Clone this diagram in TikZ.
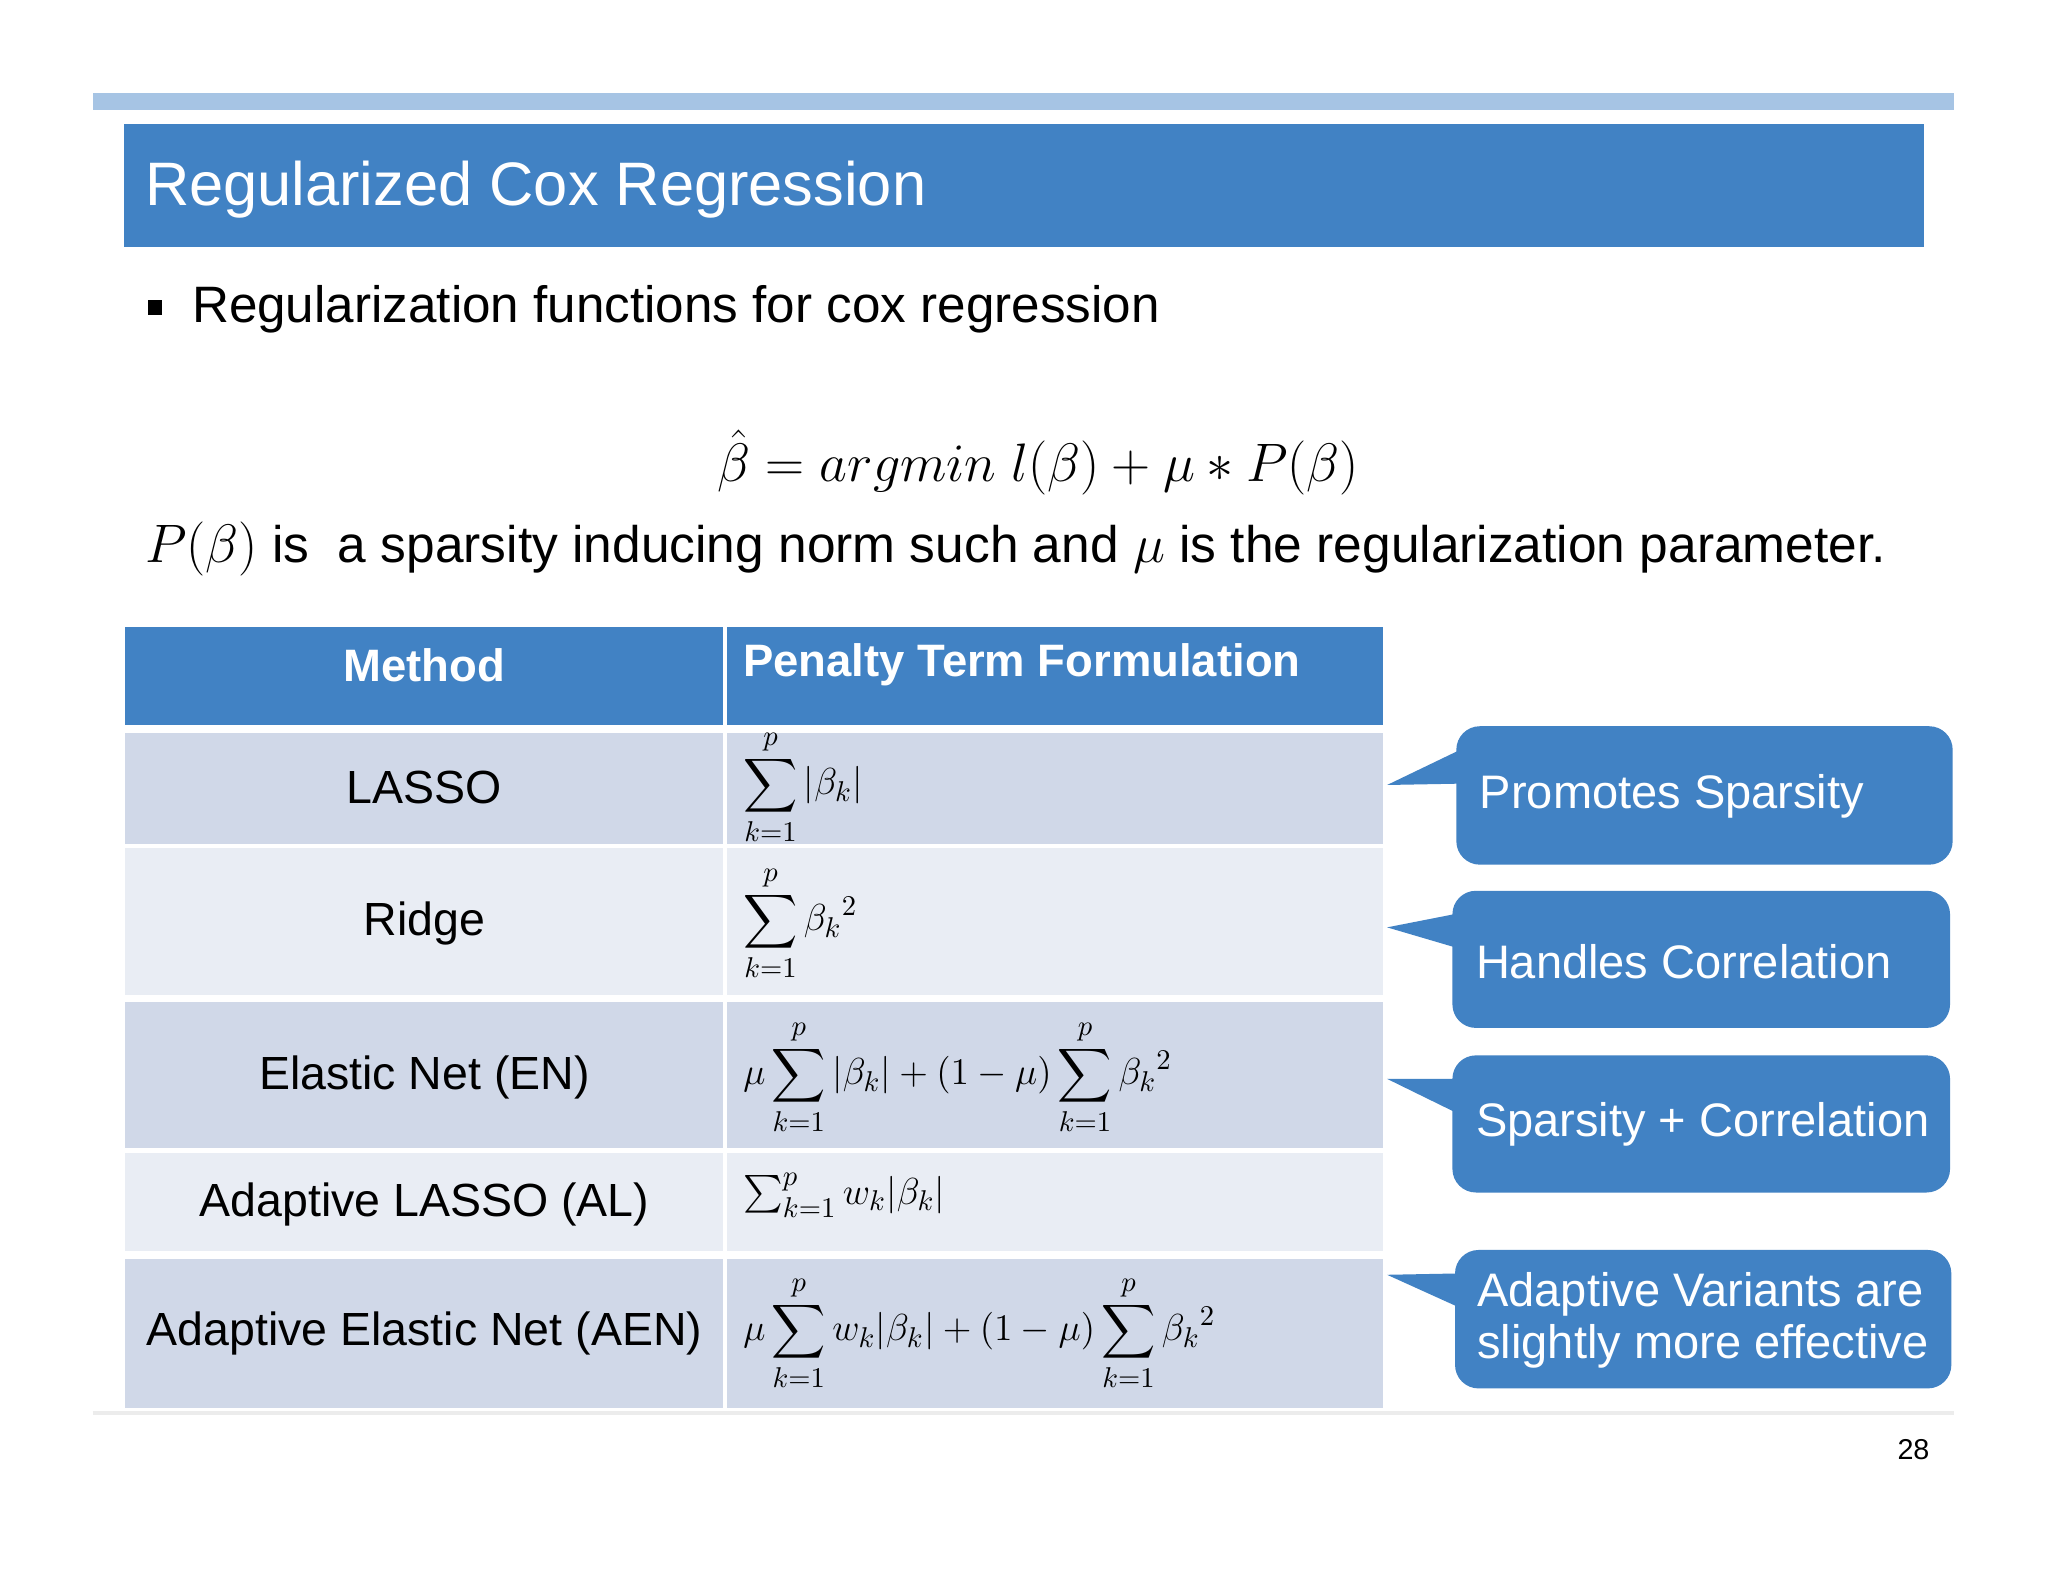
\documentclass[tikz,border=0pt]{standalone}
\usepackage{fontspec}
\setmainfont{Liberation Sans}
\usepackage{amsmath}
\begin{document}
\begin{tikzpicture}[x=0.5pt,y=-0.5pt,
  hdr/.style={font=\fontsize{17.4}{20}\selectfont\bfseries,text=white},
  cell/.style={font=\fontsize{17.8}{20}\selectfont},
  fm/.style={font=\fontsize{15}{18}\selectfont,anchor=west},
  call/.style={fill=callblue,rounded corners=9pt},
  calltxt/.style={font=\fontsize{18}{22}\selectfont,text=white,anchor=west,align=left}]
\definecolor{callblue}{RGB}{65,130,196}
\definecolor{lightbar}{RGB}{166,196,228}
\definecolor{rowdark}{RGB}{208,216,232}
\definecolor{rowlight}{RGB}{233,237,244}
\useasboundingbox (0,0) rectangle (1568,1211);
\fill[white] (0,0) rectangle (1568,1211);
\fill[lightbar] (71,71) rectangle (1496,84);
\fill[callblue] (95,95) rectangle (1473,189);
\node[anchor=west,text=white,font=\fontsize{23.5}{28}\selectfont] (title) at (104,145) {Regularized Cox Regression};
\fill (113,230) rectangle (124,241);
\node[anchor=west,font=\fontsize{19.6}{23}\selectfont] (bul) at (140,237) {Regularization functions for cox regression};
\node[font=\fontsize{20}{24}\selectfont] (eq) at (795,354) {$\hat{\beta} = argmin\; l(\beta) + \mu * P(\beta)$};
\node[anchor=west,font=\fontsize{19.7}{24}\selectfont] (desc) at (104,420) {$P(\beta)$ is\ \ a sparsity inducing norm such and $\mu$ is the regularization parameter.};
% table
\fill[callblue] (96,480) rectangle (1059,555);
\fill[rowdark] (96,561) rectangle (1059,646);
\fill[rowlight] (96,649) rectangle (1059,762);
\fill[rowdark] (96,767) rectangle (1059,879);
\fill[rowlight] (96,883) rectangle (1059,958);
\fill[rowdark] (96,964) rectangle (1059,1078);
\draw[white,line width=1.5pt] (555,480) -- (555,1078);
\node[hdr] (h1) at (325,509) {Method};
\node[hdr,anchor=west] (h2) at (562,509) {Penalty Term Formulation};
\node[cell] (r1) at (325,603) {LASSO};
\node[cell] (r2) at (325,707) {Ridge};
\node[cell] (r3) at (325,825) {Elastic Net (EN)};
\node[cell] (r4) at (325,922) {Adaptive LASSO (AL)};
\node[cell] (r5) at (325,1021) {Adaptive Elastic Net (AEN)};
\node[fm] (f1) at (562,603) {$\displaystyle\sum_{k=1}^{p}|\beta_k|$};
\node[fm] (f2) at (562,707) {$\displaystyle\sum_{k=1}^{p}{\beta_k}^2$};
\node[fm] (f3) at (562,825) {$\displaystyle\mu\sum_{k=1}^{p}|\beta_k| + (1-\mu)\sum_{k=1}^{p}{\beta_k}^2$};
\node[fm] (f4) at (562,915) {$\textstyle\sum_{k=1}^{p} w_k|\beta_k|$};
\node[fm] (f5) at (562,1021) {$\displaystyle\mu\sum_{k=1}^{p}w_k|\beta_k| + (1-\mu)\sum_{k=1}^{p}{\beta_k}^2$};
% callouts
\fill[call] (1115,556) rectangle (1495,662);
\fill[callblue] (1116,575) -- (1062,601) -- (1116,600) -- cycle;
\node[calltxt] (c1) at (1126,610) {Promotes Sparsity};
\fill[call] (1112,682) rectangle (1493,787);
\fill[callblue] (1113,700) -- (1062,710) -- (1113,725) -- cycle;
\node[calltxt] (c2) at (1123,736) {Handles Correlation};
\fill[call] (1112,808) rectangle (1493,913);
\fill[callblue] (1113,826) -- (1062,826) -- (1113,851) -- cycle;
\node[calltxt] (c3) at (1123,861) {Sparsity + Correlation};
\fill[call] (1114,957) rectangle (1494,1063);
\fill[callblue] (1115,975) -- (1062,976) -- (1115,1000) -- cycle;
\node[calltxt] (c4) at (1124,1011) {Adaptive Variants are\\[-2pt]slightly more effective};
\draw[gray!15,line width=1.5pt] (71,1082) -- (1496,1082);
\node[font=\fontsize{11}{13}\selectfont] (pg) at (1465,1110) {28};
\end{tikzpicture}
\end{document}
